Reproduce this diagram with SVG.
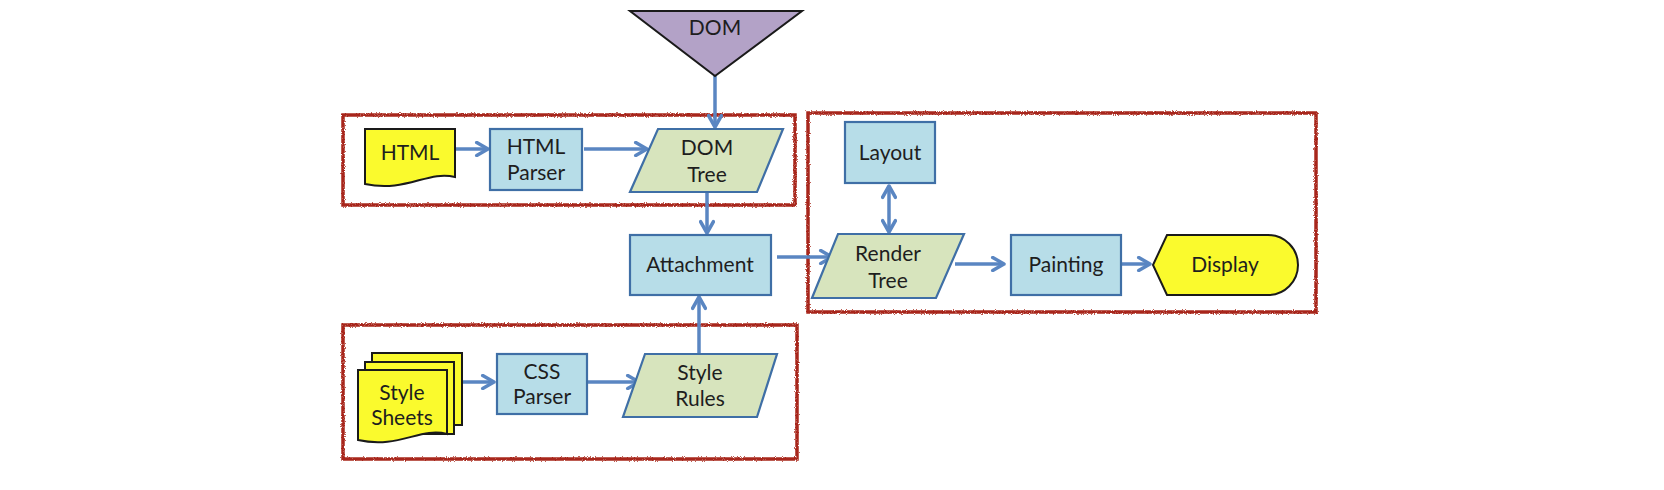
<svg xmlns="http://www.w3.org/2000/svg" width="1664" height="490" viewBox="0 0 1664 490">
<style>
  .txt { font-family: Lato, "Open Sans", "Liberation Sans", sans-serif; font-size: 21px; fill: #1e1e1e; text-anchor: middle; }
  .proc { fill: #b7dde8; stroke: #3f6fa6; stroke-width: 2.2; }
  .data { fill: #d7e4bd; stroke: #3f6fa6; stroke-width: 2.2; }
  .doc { fill: #fafa2d; stroke: #1a1a1a; stroke-width: 2; }
  .conn { fill: none; stroke: #5a86c2; stroke-width: 3.5; }
  .frame { fill: none; stroke: #a8281e; stroke-width: 3.5; filter: url(#rough); }
</style>
<defs>
  <marker id="arr" viewBox="0 0 10 10" refX="8.5" refY="5" markerWidth="4.6" markerHeight="4.6" orient="auto-start-reverse" markerUnits="strokeWidth">
    <path d="M1.5,1 L8.5,5 L1.5,9" fill="none" stroke="#5a86c2" stroke-width="2.2" stroke-linecap="round" stroke-linejoin="round"/>
  </marker>
  <filter id="rough" x="-5%" y="-5%" width="110%" height="110%">
    <feTurbulence type="fractalNoise" baseFrequency="0.9" numOctaves="2" seed="3"/>
    <feDisplacementMap in="SourceGraphic" scale="3"/>
  </filter>
</defs>
<rect width="1664" height="490" fill="#ffffff"/>

<g id="frames">
  <rect class="frame" x="343" y="115" width="452" height="90"/>
  <rect class="frame" x="343" y="325" width="454" height="134"/>
  <rect class="frame" x="808" y="113" width="508" height="199"/>
</g>

<g id="connectors">
  <line class="conn" x1="455" y1="149" x2="488" y2="149" marker-end="url(#arr)"/>
  <line class="conn" x1="584" y1="149" x2="647" y2="149" marker-end="url(#arr)"/>
  <line class="conn" x1="715" y1="76" x2="715" y2="127" marker-end="url(#arr)"/>
  <line class="conn" x1="707" y1="193" x2="707" y2="233" marker-end="url(#arr)"/>
  <line class="conn" x1="699" y1="354" x2="699" y2="297" marker-end="url(#arr)"/>
  <line class="conn" x1="462" y1="382" x2="494" y2="382" marker-end="url(#arr)"/>
  <line class="conn" x1="588" y1="382" x2="639" y2="382" marker-end="url(#arr)"/>
  <line class="conn" x1="777" y1="257" x2="832" y2="257" marker-end="url(#arr)"/>
  <line class="conn" x1="889" y1="186" x2="889" y2="232" marker-start="url(#arr)" marker-end="url(#arr)"/>
  <line class="conn" x1="955" y1="264" x2="1004" y2="264" marker-end="url(#arr)"/>
  <line class="conn" x1="1122" y1="264" x2="1150" y2="264" marker-end="url(#arr)"/>
</g>

<g id="dom">
  <polygon points="630,11 802,11 715,76" fill="#b3a2c7" stroke="#1a1a1a" stroke-width="2"/>
  <text class="txt" x="715" y="35">DOM</text>
</g>

<g id="html">
  <path class="doc" d="M365,129 H455 V177 C428,170 406,193 365,184 Z"/>
  <text class="txt" x="410" y="160">HTML</text>
</g>

<g id="html-parser">
  <rect class="proc" x="490" y="129" width="92" height="61"/>
  <text class="txt" x="536" y="154">HTML</text>
  <text class="txt" x="536" y="180">Parser</text>
</g>

<g id="dom-tree">
  <polygon class="data" points="658,129 783,129 757,192 630,192"/>
  <text class="txt" x="707" y="155">DOM</text>
  <text class="txt" x="707" y="182">Tree</text>
</g>

<g id="attachment">
  <rect class="proc" x="630" y="235" width="141" height="60"/>
  <text class="txt" x="700" y="272">Attachment</text>
</g>

<g id="style-sheets">
  <rect class="doc" x="372" y="353" width="90" height="72"/>
  <rect class="doc" x="365" y="362" width="89" height="72"/>
  <path class="doc" d="M358,370 H447 V434 C420,427 399,449 358,440 Z"/>
  <text class="txt" x="402" y="400">Style</text>
  <text class="txt" x="402" y="425">Sheets</text>
</g>

<g id="css-parser">
  <rect class="proc" x="497" y="354" width="90" height="60"/>
  <text class="txt" x="542" y="379">CSS</text>
  <text class="txt" x="542" y="404">Parser</text>
</g>

<g id="style-rules">
  <polygon class="data" points="645,354 777,354 757,417 623,417"/>
  <text class="txt" x="700" y="380">Style</text>
  <text class="txt" x="700" y="406">Rules</text>
</g>

<g id="layout">
  <rect class="proc" x="845" y="122" width="90" height="61"/>
  <text class="txt" x="890" y="160">Layout</text>
</g>

<g id="render-tree">
  <polygon class="data" points="838,234 964,234 936,298 812,298"/>
  <text class="txt" x="888" y="261">Render</text>
  <text class="txt" x="888" y="288">Tree</text>
</g>

<g id="painting">
  <rect class="proc" x="1011" y="235" width="110" height="60"/>
  <text class="txt" x="1066" y="272">Painting</text>
</g>

<g id="display">
  <path class="doc" d="M1153,265 L1167,235 H1268 A30,30 0 0 1 1268,295 H1167 Z"/>
  <text class="txt" x="1225" y="272">Display</text>
</g>
</svg>
